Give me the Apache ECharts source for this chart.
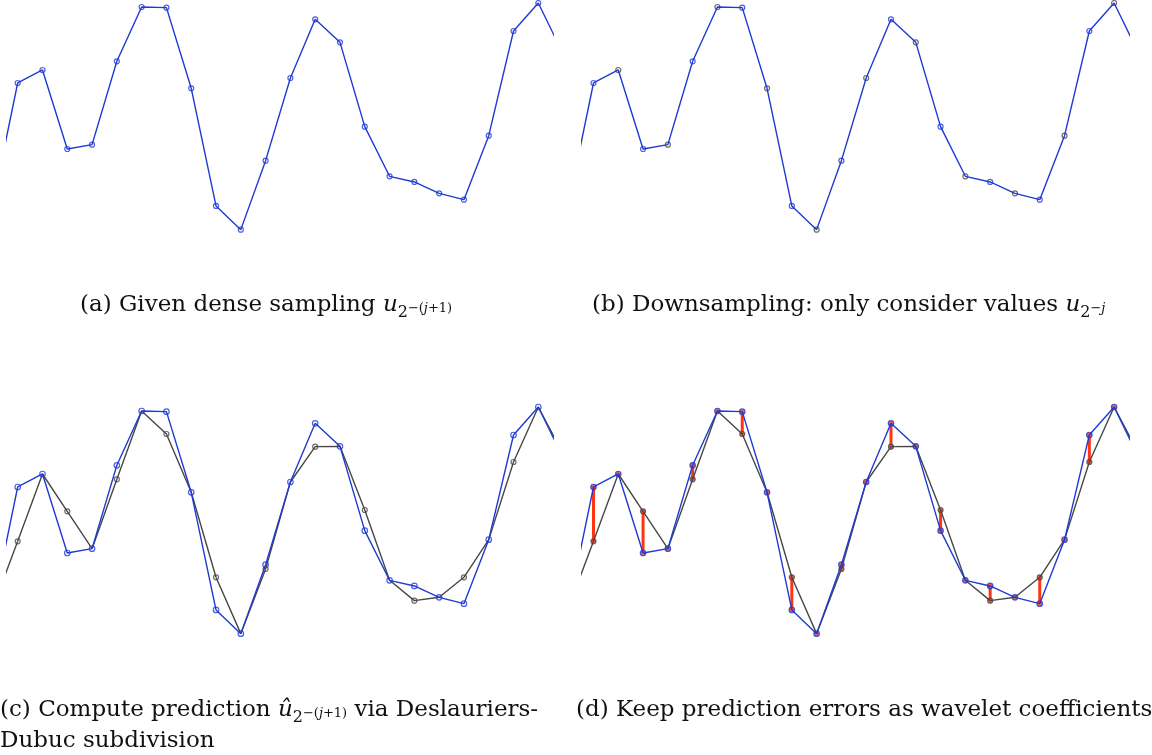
<!DOCTYPE html>
<html>
<head>
<meta charset="utf-8">
<script src="https://cdn.jsdelivr.net/npm/echarts@6/dist/echarts.min.js"></script>
<style>
  html, body { margin: 0; padding: 0; background: #fff; }
  #chart-container { width: 1152px; height: 755px; }
</style>
</head>
<body>
<div id="chart-container"></div>
<script>
// dense sampling positions u_{2^-(j+1)} (index 0 and 23 fall just outside the clip)
var densePos = [0, 1, 2, 3, 4, 5, 6, 7, 8, 9, 10, 11, 12, 13, 14, 15, 16, 17, 18, 19, 20, 21, 22, 23];
var denseValues = [90, 451, 490, 253, 266, 516, 679, 677, 435, 82, 11, 218, 466, 642, 573, 320, 171, 154, 120, 101, 293, 607, 691, 538];

// coarse samples u_{2^-j} are the even positions
var coarsePos = [0, 2, 4, 6, 8, 10, 12, 14, 16, 18, 20, 22];

// Deslauriers-Dubuc predictions at the odd positions
var predPos = [1, 3, 5, 7, 9, 11, 13, 15, 17, 19, 21, 23];
var predValues = [288, 378, 474, 610, 180, 205, 572, 382, 110, 180, 526, 550];

var captions = [
  '{t|(a) Given dense sampling }{u|u}{s|2}{p|−(}{pi|j}{p|+1)}',
  '{t|(b) Downsampling: only consider values }{u|u}{s|2}{p|−}{pi|j}',
  '{t|(c) Compute prediction }{u|û}{s|2}{p|−(}{pi|j}{p|+1)}{t| via Deslauriers-}\n{t|Dubuc subdivision}',
  '{t|(d) Keep prediction errors as wavelet coefficients}'
];

var BLUE = '#1f3ad4';
var GRAY = '#474747';
var RED = '#ff3512';
var FONT = 'DejaVu Serif';

var chartDom = document.getElementById('chart-container');
var myChart = echarts.init(chartDom);

function pairs(xs, ys) {
  return xs.map(function (x, i) { return [x, ys[i]]; });
}
var denseData = pairs(densePos, denseValues);
var coarseData = coarsePos.map(function (p) { return [p, denseValues[p]]; });
var oddData = predPos.map(function (p) { return [p, denseValues[p]]; });
var predData = pairs(predPos, predValues);
// prediction line runs through coarse samples and predicted odd samples
var predLine = densePos.map(function (p) {
  var k = predPos.indexOf(p);
  return k >= 0 ? [p, predValues[k]] : [p, denseValues[p]];
});
var errData = predPos.map(function (p, i) { return [p, predValues[i], denseValues[p]]; });

var panels = [
  { left: 6.7, top: 0 },
  { left: 582.5, top: 0 },
  { left: 6.7, top: 404 },
  { left: 582.5, top: 404 }
];

var grids = [], xAxes = [], yAxes = [], series = [];
panels.forEach(function (p, g) {
  grids.push({ left: p.left, top: p.top, width: 546, height: 233.3 });
  xAxes.push({ gridIndex: g, type: 'value', min: 0.557, max: 22.58, show: false });
  yAxes.push({ gridIndex: g, type: 'value', min: 0, max: 700, show: false });
});

function lineSeries(g, data, color) {
  return {
    type: 'line', xAxisIndex: g, yAxisIndex: g, data: data,
    showSymbol: false, symbol: 'none', clip: true, silent: true,
    lineStyle: { color: color, width: 1.4 }
  };
}
function dots(g, data, color, fill, size) {
  return {
    type: 'scatter', xAxisIndex: g, yAxisIndex: g, data: data,
    symbol: 'circle', symbolSize: size || 5, silent: true,
    itemStyle: { color: fill || '#fff', borderColor: color, borderWidth: 1.2 }
  };
}

// (a)
series.push(lineSeries(0, denseData, BLUE));
series.push(dots(0, denseData.slice(1, 23), BLUE));
// (b)
series.push(lineSeries(1, denseData, BLUE));
series.push(dots(1, oddData.slice(0, 11), BLUE));
series.push(dots(1, coarseData.slice(1), GRAY));
// (c)
series.push(lineSeries(2, predLine, GRAY));
series.push(lineSeries(2, denseData, BLUE));
series.push(dots(2, predData.slice(0, 11), GRAY));
series.push(dots(2, denseData.slice(1, 23), BLUE, '#fff', 5.5));
// (d)
series.push(lineSeries(3, predLine, GRAY));
series.push(lineSeries(3, denseData, BLUE));
series.push({
  type: 'custom', xAxisIndex: 3, yAxisIndex: 3, data: errData.slice(0, 11), silent: true,
  renderItem: function (params, api) {
    var a = api.coord([api.value(0), api.value(1)]);
    var b = api.coord([api.value(0), api.value(2)]);
    return {
      type: 'line',
      shape: { x1: a[0], y1: a[1], x2: b[0], y2: b[1] },
      style: { stroke: RED, lineWidth: 3 }
    };
  }
});
series.push(dots(3, predData.slice(0, 11), GRAY, RED));
series.push(dots(3, denseData.slice(1, 23), BLUE, RED, 5.5));

var base = { fontFamily: FONT, fontWeight: 'normal', color: '#111', lineHeight: 31 };
function st(extra) { return Object.assign({}, base, extra); }
var rich = {
  t: st({ fontSize: 23 }),
  u: st({ fontSize: 23, fontStyle: 'italic' }),
  s: st({ fontSize: 16, padding: [14, 0, 0, 0] }),
  p: st({ fontSize: 13, padding: [6, 0, 0, 0] }),
  pi: st({ fontSize: 13, fontStyle: 'italic', padding: [6, 0, 0, 0] })
};

var titlePos = [
  { left: 80, top: 290 },
  { left: 592, top: 290 },
  { left: 0, top: 695 },
  { left: 576, top: 695 }
];
var titles = captions.map(function (c, i) {
  return {
    text: c, left: titlePos[i].left, top: titlePos[i].top, padding: 0,
    textStyle: { fontWeight: 'normal', rich: rich }
  };
});

var option = {
  backgroundColor: '#fff',
  animation: false,
  title: titles,
  grid: grids,
  xAxis: xAxes,
  yAxis: yAxes,
  series: series
};

option && myChart.setOption(option);

window.addEventListener('resize', function () {
  myChart.resize();
});
</script>
</body>
</html>
